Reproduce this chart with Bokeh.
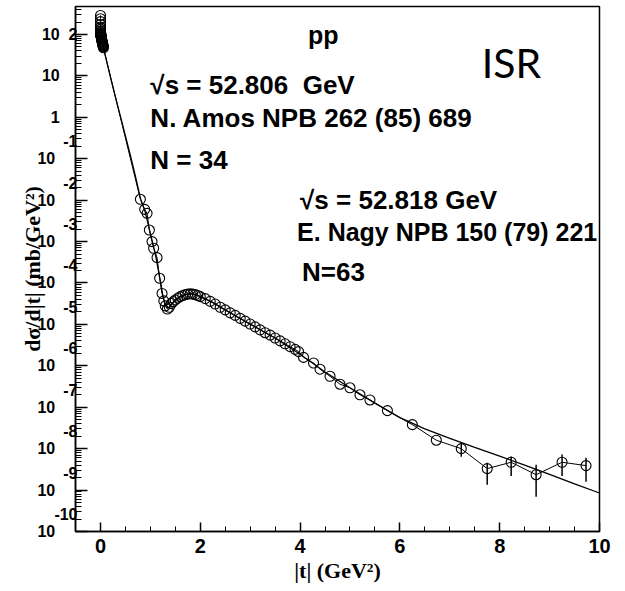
from bokeh.plotting import figure
from bokeh.models import (Label, FixedTicker, SingleIntervalTicker, Range1d,
                          CustomJSTickFormatter, AllLabels)
from bokeh.embed import file_html
from bokeh.resources import INLINE

# ---------------- data ----------------
# N. Amos NPB 262 (85) 689, N = 34
amos_t = [0.001, 0.0012, 0.0014, 0.0017, 0.002, 0.0024, 0.0028, 0.0033, 0.0038,
          0.0045, 0.0052, 0.006, 0.007, 0.008, 0.009, 0.010, 0.012, 0.014, 0.016,
          0.018, 0.020, 0.023, 0.026, 0.029, 0.032, 0.035, 0.038, 0.041, 0.044,
          0.047, 0.050, 0.053, 0.056, 0.060]
amos_y = [288, 240, 204, 174, 151, 135, 123, 115, 110, 105, 102, 100, 97.7, 95.5,
          94.4, 93.3, 91.2, 89.1, 87.1, 85.1, 79.4, 76.7, 74.1, 70.8, 68.4, 66.1,
          63.1, 61.0, 58.9, 56.9, 55.0, 52.5, 50.7, 47.9]

# E. Nagy NPB 150 (79) 221, N = 63
nagy_t = [0.80, 0.886, 0.934, 0.98, 1.034, 1.066, 1.134, 1.186, 1.234, 1.27, 1.30, 1.34,
          1.38, 1.42, 1.46, 1.50, 1.55, 1.60, 1.65, 1.70, 1.75, 1.80, 1.85, 1.90, 1.95,
          2.00, 2.1, 2.2, 2.3, 2.4, 2.5, 2.6, 2.7, 2.8, 2.9, 3.0, 3.1, 3.2, 3.3, 3.4,
          3.5, 3.6, 3.7, 3.8, 3.9, 3.97,
          4.07, 4.27, 4.40, 4.60, 4.80, 5.00, 5.20, 5.40, 5.75, 6.25, 6.73, 7.23,
          7.75, 8.23, 8.73, 9.25, 9.73]
nagy_y = [1.05e-2, 6.0e-3, 4.8e-3, 1.9e-3, 1.0e-3, 6.9e-4, 4.1e-4, 1.3e-4, 5.6e-5,
          3.7e-5, 2.8e-5, 2.35e-5,
          2.6e-5, 3.2e-5, 3.55e-5, 3.9e-5, 4.3e-5, 4.7e-5, 5.0e-5, 5.25e-5, 5.4e-5,
          5.5e-5, 5.4e-5, 5.25e-5, 5.0e-5, 4.7e-5, 4.2e-5, 3.6e-5, 3.1e-5, 2.6e-5,
          2.25e-5, 1.9e-5, 1.65e-5, 1.4e-5, 1.2e-5, 1.02e-5, 8.7e-6, 7.4e-6, 6.3e-6,
          5.5e-6, 4.7e-6, 4.0e-6, 3.4e-6, 2.9e-6, 2.5e-6, 2.2e-6,
          1.6e-6, 1.17e-6, 8.3e-7, 5.6e-7, 3.6e-7, 2.95e-7, 2.0e-7, 1.5e-7, 8.3e-8,
          3.8e-8, 1.6e-8, 1.0e-8, 3.3e-9, 4.7e-9, 2.35e-9, 4.7e-9, 3.9e-9]

# visible error bars (large |t|)
err_t = [7.23, 7.75, 8.23, 8.73, 9.25, 9.73]
err_hi = [1.38e-8, 4.6e-9, 6.5e-9, 4.1e-9, 7.2e-9, 6.0e-9]
err_lo = [6.4e-9, 1.35e-9, 2.2e-9, 6.9e-10, 2.2e-9, 1.6e-9]

# model curve
fit_t = [0.002, 0.005, 0.01, 0.03, 0.06, 0.1, 0.2, 0.3, 0.4, 0.5, 0.6, 0.7, 0.8,
         0.9, 1.0, 1.1, 1.2, 1.25, 1.3, 1.35, 1.4, 1.5, 1.6, 1.7, 1.8, 1.9, 2.0,
         2.25, 2.5, 2.75, 3.0, 3.5, 4.0, 4.5, 5.0, 5.5, 6.0, 6.5, 7.0, 7.5, 8.0,
         8.5, 9.0, 9.5, 10.0]
fit_y = [151, 102, 93.3, 70.8, 47.9, 29.5, 9.33, 3.09, 1.05, 0.355, 0.120, 0.038,
         0.0112, 5.0e-3, 1.58e-3, 5.0e-4, 1.12e-4, 5.0e-5, 3.0e-5, 2.5e-5, 2.8e-5,
         3.8e-5, 4.7e-5, 5.25e-5, 5.5e-5, 5.25e-5, 4.7e-5, 3.4e-5, 2.25e-5, 1.5e-5,
         1.02e-5, 4.7e-6, 1.9e-6, 7.1e-7, 2.95e-7, 1.26e-7, 5.6e-8, 3.0e-8, 1.78e-8,
         1.07e-8, 6.6e-9, 4.0e-9, 2.4e-9, 1.41e-9, 8.5e-10]

y_exponents = [-10, -9, -8, -7, -6, -5, -4, -3, -2, -1, 0, 1, 2]

# ---------------- figure ----------------
SANS = "Liberation Sans"
SERIF = "Liberation Serif"
DEC = 41.42                      # pixels per decade (layout only)

p = figure(width=625, height=591, output_backend="svg", toolbar_location=None,
           y_axis_type="log",
           x_range=Range1d(-0.5, 10.0), y_range=Range1d(1e-10, 10 ** (2 + 28 / DEC)),
           min_border_left=75, min_border_right=26, min_border_top=6,
           min_border_bottom=60)
p.background_fill_color = "white"
p.border_fill_color = "white"
p.grid.visible = False
p.outline_line_color = "black"
p.outline_line_width = 1.5

# x axis
p.xaxis.ticker = SingleIntervalTicker(interval=2, num_minor_ticks=4)
p.xaxis.major_tick_in = 9
p.xaxis.major_tick_out = 0
p.xaxis.minor_tick_in = 5
p.xaxis.minor_tick_out = 0
p.xaxis.axis_line_width = 1.5
p.xaxis.major_tick_line_width = 1.5
p.xaxis.major_label_text_font = SANS
p.xaxis.major_label_text_font_style = "bold"
p.xaxis.major_label_text_font_size = "20px"
p.xaxis.major_label_text_color = "black"
p.xaxis.major_label_standoff = 7
p.xaxis.axis_label = "|t| (GeV²)"
p.xaxis.axis_label_text_font = SERIF
p.xaxis.axis_label_text_font_style = "bold"
p.xaxis.axis_label_text_font_size = "22px"
p.xaxis.axis_label_text_color = "black"
p.xaxis.axis_label_standoff = 2

# y axis: ROOT-like labels, exponent on the line above the "10"
major = [10.0 ** e for e in y_exponents]
minor = [m * 10.0 ** e for e in y_exponents for m in range(2, 10)]
p.yaxis.ticker = FixedTicker(ticks=major, minor_ticks=minor)
p.yaxis.major_tick_in = 12
p.yaxis.major_tick_out = 0
p.yaxis.minor_tick_in = 6
p.yaxis.minor_tick_out = 0
p.yaxis.axis_line_width = 1.5
p.yaxis.major_tick_line_width = 1.5
p.yaxis.major_label_policy = AllLabels()
p.yaxis.formatter = CustomJSTickFormatter(code="""
const e = Math.round(Math.log10(tick));
const nb = '\\u00a0';
if (e == 2) return '10' + nb + nb + '2';
if (e == 1) return '10' + nb.repeat(4);
if (e == 0) return '1' + nb.repeat(4);
return String(e) + '\\n' + '10' + nb.repeat(5) + '\\n' + nb;
""")
p.yaxis.major_label_text_font = SANS
p.yaxis.major_label_text_font_style = "bold"
p.yaxis.major_label_text_font_size = "16px"
p.yaxis.major_label_text_line_height = 1.0
p.yaxis.major_label_text_color = "black"
p.yaxis.major_label_standoff = -2
p.yaxis.axis_label = "dσ/d|t| (mb/GeV²)"
p.yaxis.axis_label_text_font = SERIF
p.yaxis.axis_label_text_font_style = "bold"
p.yaxis.axis_label_text_font_size = "22px"
p.yaxis.axis_label_text_color = "black"
p.yaxis.axis_label_standoff = -11

# ---------------- glyphs ----------------
p.line(fit_t, fit_y, line_color="black", line_width=1.3)
all_t = amos_t + nagy_t
all_y = amos_y + nagy_y
p.line(all_t, all_y, line_color="black", line_width=1.0)
p.segment(x0=err_t, y0=err_lo, x1=err_t, y1=err_hi, line_color="black", line_width=1.5)
p.scatter(all_t, all_y, marker="circle", size=10, fill_color=None,
          line_color="black", line_width=1.1)

# ---------------- annotation texts ----------------
def lab(x, y, text, size, font=SANS, style="bold"):
    p.add_layout(Label(x=x, y=y, text=text, text_font=font, text_font_style=style,
                       text_font_size=size, text_align="left",
                       text_baseline="alphabetic", text_color="black"))

lab(4.16, 10 ** 1.976, "pp", "25px")
lab(1.0, 10 ** 0.769, "√s = 52.806\u00a0 GeV", "26px")
lab(1.0, 10 ** -0.028, "N. Amos NPB 262 (85) 689", "26px")
lab(1.0, 10 ** -1.042, "N = 34", "26px")
lab(4.0, 10 ** -2.008, "√s = 52.818 GeV", "26px")
lab(3.94, 10 ** -2.78, "E. Nagy NPB 150 (79) 221", "25px")
lab(4.04, 10 ** -3.746, "N=63", "26px")
lab(7.64, 10 ** 1.324, "ISR", "41px", font="Lato", style="normal")

open("out.html", "w").write(file_html(p, INLINE))
